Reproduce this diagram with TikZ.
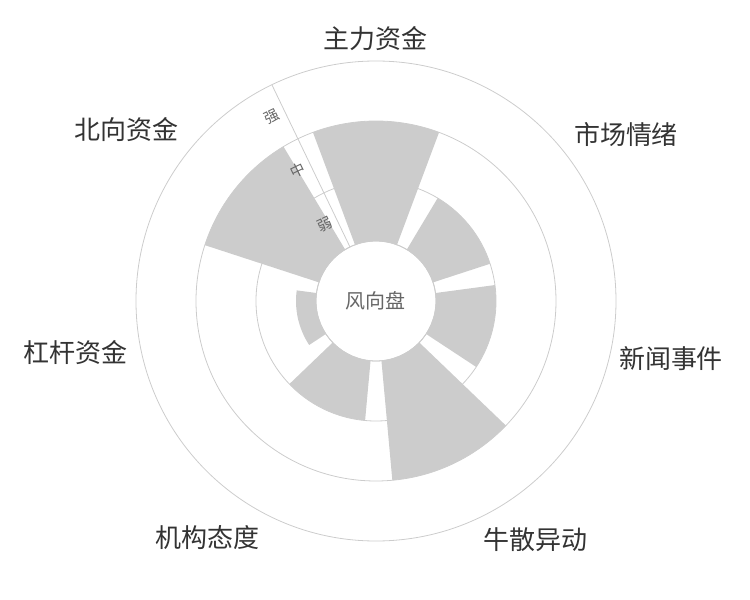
\documentclass[tikz,border=0pt]{standalone}
\usepackage{fontspec}
\setmainfont{Noto Sans CJK SC}
\usetikzlibrary{positioning}

\begin{document}
\begin{tikzpicture}[x=0.75pt,y=0.75pt,
    ring/.style={draw=gray!40,line width=0.6pt},
    bar/.style={fill=black!20},
    cat label/.style={text=black!80,font=\fontsize{19.5}{22}\selectfont},
    tick label/.style={text=black!60,font=\fontsize{11}{12}\selectfont,rotate=25.7}]
  \useasboundingbox (-376,-299) rectangle (374,301);
  % rings of the polar grid
  \foreach \r in {60,120,180,240}
    \draw[ring] (0,0) circle (\r);
  % bars: sector centre angle / outer radius
  \foreach \a/\v in {90/180,38.57/120,-12.86/120,-64.29/180,-115.71/120,-167.14/80,141.43/180}
    \fill[bar] (\a-20.5:60) arc (\a-20.5:\a+20.5:60) -- (\a+20.5:\v) arc (\a+20.5:\a-20.5:\v) -- cycle;
  \draw[ring] (0,0) circle (60);
  % radial axis
  \coordinate (ax0) at (115.71:60);
  \coordinate (ax1) at (115.71:240);
  \draw[ring] (ax0) -- (ax1);
  \node[tick label] (weak) at (123.5:92) {弱};
  \node[tick label] (mid) at (121:152) {中};
  \node[tick label] (strong) at (119.5:212) {强};
  \node[text=black!60,font=\fontsize{15}{18}\selectfont] (hub) at (0,0) {风向盘};
  % category labels
  \node[cat label] (c1) at (0,262) {主力资金};
  \node[cat label] (c2) at (250,166) {市场情绪};
  \node[cat label] (c3) at (295,-58) {新闻事件};
  \node[cat label] (c4) at (160,-239) {牛散异动};
  \node[cat label] (c5) at (-168,-237) {机构态度};
  \node[cat label] (c6) at (-300,-52) {杠杆资金};
  \node[cat label] (c7) at (-249,171) {北向资金};
\end{tikzpicture}
\end{document}
